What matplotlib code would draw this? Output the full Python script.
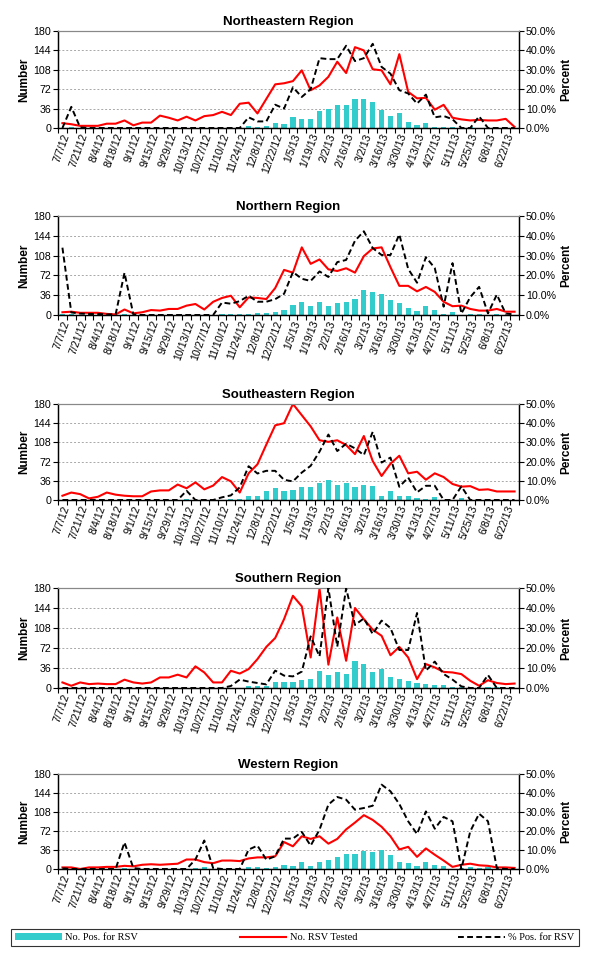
import matplotlib
matplotlib.use('Agg')
import numpy as np
import matplotlib.pyplot as plt
from matplotlib.ticker import PercentFormatter
from matplotlib.patches import Patch
from matplotlib.lines import Line2D

# week labels shown (every other week, 7/7/12 .. 6/22/13), 52 weeks in total
week_labels = ['7/7/12', '7/21/12', '8/4/12', '8/18/12', '9/1/12', '9/15/12',
               '9/29/12', '10/13/12', '10/27/12', '11/10/12', '11/24/12',
               '12/8/12', '12/22/12', '1/5/13', '1/19/13', '2/2/13', '2/16/13',
               '3/2/13', '3/16/13', '3/30/13', '4/13/13', '4/27/13', '5/11/13',
               '5/25/13', '6/8/13', '6/22/13']
n_weeks = 52

# Northeastern
ne_pos = [0, 1, 0, 0, 0, 0, 0, 0, 0, 0, 0, 0, 0, 0, 0, 0, 0, 0, 0, 0,
          0, 3, 1, 4, 10, 8, 20, 17, 16, 31, 35, 43, 43, 53, 53, 48, 33, 23, 27, 12,
          6, 10, 2, 2, 1, 0, 1, 0, 0, 0, 0, 0]
ne_tested = [9, 7, 4, 4, 4, 8, 8, 14, 5, 10, 10, 23, 19, 14, 21, 14, 22, 24, 30, 24,
             45, 47, 27, 54, 81, 83, 87, 107, 70, 79, 95, 123, 102, 150, 144, 109, 107, 81, 137, 67,
             55, 56, 34, 43, 19, 16, 14, 15, 14, 14, 17, 2]
ne_pct = [0, 10.9, 0.3, 0, 0, 0, 0, 0, 0, 0, 0, 0, 0, 0, 0, 0, 0, 0, 0, 0,
          0, 5.5, 3.4, 3.4, 12, 10, 21, 16, 20, 36, 35.5, 35.5, 42.4, 34.5, 36, 43.4, 31.5, 28, 19.5, 17.8,
          12.6, 17.2, 5.5, 6.2, 4.5, 0, 0, 6, 0, 0, 0, 0]

# Northern
n_pos = [2, 1, 0, 0, 0, 0, 0, 2, 0, 0, 0, 0, 0, 0, 0, 0, 0, 0, 2, 2,
         1, 2, 3, 3, 5, 9, 18, 23, 16, 23, 17, 22, 23, 29, 45, 41, 38, 27, 22, 13,
         7, 16, 9, 2, 5, 0, 2, 2, 0, 1, 0, 0]
n_tested = [5, 6, 4, 4, 4, 2, 1, 10, 3, 5, 9, 8, 11, 11, 17, 20, 10, 24, 31, 35,
            14, 32, 31, 29, 49, 82, 77, 123, 93, 101, 83, 80, 85, 77, 107, 121, 123, 87, 53, 53,
            43, 51, 42, 24, 16, 17, 11, 8, 8, 11, 6, 6]
n_pct = [34, 1.3, 0.7, 0.5, 0.5, 0.3, 0.3, 21.3, 0.3, 0, 0, 0, 0, 0, 0, 0, 0, 0, 6.3, 5.7,
         7, 9.7, 6.7, 6.7, 8, 10.7, 21.7, 18.3, 17.2, 22, 19.2, 26.7, 27.8, 37.5, 42.3, 33.8, 30.3, 30.3, 40.7, 23.3,
         16.3, 29.2, 23.7, 4.2, 26.2, 0.7, 9, 14.2, 0.8, 10.3, 0.7, 0.3]

# Southeastern
se_pos = [0, 0, 0, 0, 0, 0, 0, 0, 0, 0, 0, 0, 0, 0, 1, 0, 0, 0, 0, 1,
          1, 8, 8, 16, 22, 16, 18, 24, 25, 31, 38, 29, 31, 24, 29, 27, 8, 16, 7, 7,
          3, 2, 5, 0, 0, 3, 0, 0, 0, 0, 0, 0]
se_tested = [8, 14, 11, 3, 6, 14, 10, 8, 7, 7, 16, 18, 18, 29, 22, 33, 20, 27, 43, 35,
             14, 50, 67, 104, 140, 144, 180, 159, 138, 112, 109, 112, 103, 86, 120, 73, 45, 68, 83, 50,
             53, 38, 50, 43, 30, 25, 26, 19, 20, 16, 16, 16]
se_pct = [0, 0, 0, 0, 0, 0, 0, 0, 0, 0, 0, 0, 0, 0, 4.8, 0, 0, 0, 1.4, 2.4,
          6.6, 17.6, 13.8, 15.2, 15.2, 10.5, 9.7, 14.3, 17.8, 25.2, 34.1, 25.5, 29.3, 26.9, 23.4, 35.5, 19.5, 22.1, 6.9, 11.7,
          4, 7.4, 7.4, 0, 0, 7.1, 0, 0, 0, 0, 0, 0]

# Southern
s_pos = [0, 0, 0, 0, 0, 0, 0, 0, 0, 0, 0, 0, 0, 0, 0, 0, 0, 0, 0, 0,
         0, 3, 3, 3, 10, 10, 10, 14, 16, 30, 23, 28, 26, 48, 43, 29, 34, 19, 16, 12,
         9, 7, 6, 5, 2, 1, 0, 0, 2, 1, 0, 0]
s_tested = [10, 4, 10, 7, 8, 7, 7, 15, 10, 8, 10, 19, 19, 24, 19, 39, 28, 10, 10, 31,
            26, 34, 52, 74, 90, 124, 166, 147, 55, 179, 42, 127, 49, 144, 124, 105, 94, 59, 74, 55,
            16, 43, 37, 29, 28, 25, 13, 4, 14, 9, 7, 8]
s_pct = [0, 0, 0, 0, 0, 0, 0, 0, 0, 0, 0, 0, 0, 0, 0, 0, 0, 0, 0, 1,
         4.2, 3.2, 2.5, 1.8, 8.7, 6.2, 5.8, 8.2, 25.8, 15.8, 50, 20.7, 49.8, 31.5, 34.8, 27, 33.7, 30, 19, 19,
         37.5, 8.7, 13.2, 7, 4.2, 0.8, 0, 0, 6.5, 0, 0, 0]

# Western
w_pos = [0, 0, 0, 0, 0, 0, 0, 1, 0, 0, 0, 0, 0, 0, 0, 1, 3, 0, 0, 0,
         0, 4, 4, 1, 4, 8, 6, 13, 6, 13, 17, 23, 28, 28, 34, 32, 36, 27, 13, 11,
         5, 13, 7, 5, 0, 1, 3, 2, 3, 0, 0, 0]
w_tested = [3, 3, 0, 3, 3, 4, 4, 6, 5, 8, 9, 8, 9, 10, 18, 18, 13, 11, 16, 16,
            15, 20, 22, 22, 24, 51, 43, 62, 57, 62, 48, 57, 75, 88, 102, 93, 80, 62, 37, 42,
            23, 39, 27, 16, 4, 8, 10, 7, 6, 3, 3, 2]
w_pct = [0.4, 0, 0, 0, 0, 0, 0, 14, 0.5, 0, 0, 0, 0, 0, 0, 5, 15, 0.5, 0, 0,
         0, 10.2, 12.3, 4.9, 6.7, 16, 16, 19.5, 12.3, 20.7, 33.9, 37.9, 36.5, 31.2, 32.1, 33.3, 44.4, 40.9, 34.2, 25.1,
         18.4, 30.3, 21.2, 27.4, 25.1, 0, 19.8, 29.1, 25.1, 0.5, 0, 0]

titles = ['Northeastern Region', 'Northern Region', 'Southeastern Region',
          'Southern Region', 'Western Region']
pos_all = [ne_pos, n_pos, se_pos, s_pos, w_pos]
tested_all = [ne_tested, n_tested, se_tested, s_tested, w_tested]
pct_all = [ne_pct, n_pct, se_pct, s_pct, w_pct]

# plot area boxes in pixels (top, bottom)
W, H = 593, 966
left_px, right_px = 58, 519
boxes = [(31, 128), (216, 315), (404, 500), (588, 688), (774, 869)]

bar_col = '#33CCCC'
red = '#FF0000'
sans = ['Liberation Sans', 'DejaVu Sans']
serif = ['Liberation Serif', 'DejaVu Serif']
plt.rcParams['font.family'] = sans
tick_fs = 7.7

fig = plt.figure(figsize=(W / 100, H / 100), dpi=100)
x = np.arange(n_weeks)

for k in range(5):
    top, bot = boxes[k]
    ax = fig.add_axes([left_px / W, 1 - bot / H, (right_px - left_px) / W, (bot - top) / H])
    ax2 = ax.twinx()

    ax.bar(x, pos_all[k], width=0.58, color=bar_col, zorder=2)
    ax.plot(x, tested_all[k], color=red, lw=1.5, zorder=3)
    ax2.plot(x, pct_all[k], color='black', lw=1.4, ls=(0, (3, 1.7)), zorder=3)

    ax.set_xlim(-0.5, n_weeks - 0.5)
    ax.set_ylim(0, 180)
    ax.set_yticks(np.arange(0, 181, 36))
    ax2.set_ylim(0, 50)
    ax2.set_yticks(np.arange(0, 51, 10))
    ax2.yaxis.set_major_formatter(PercentFormatter(xmax=100, decimals=1))

    ax.grid(axis='y', color='#A8A8A8', ls=(0, (2, 2)), lw=0.7, zorder=0)
    ax.set_axisbelow(True)

    ax.set_xticks(x[::2])
    ax.set_xticklabels(week_labels, rotation=70, ha='right', rotation_mode='anchor', fontsize=tick_fs)
    ax.set_xticks(np.arange(-0.5, n_weeks, 1), minor=True)
    ax.tick_params(axis='x', which='major', length=0, pad=3)
    ax.tick_params(axis='x', which='minor', length=3.5, width=0.8)
    ax.tick_params(axis='y', labelsize=tick_fs, length=3.5, width=0.8, pad=1.5)
    ax2.tick_params(axis='y', labelsize=tick_fs, length=3.5, width=0.8, pad=1.5)

    for a in (ax, ax2):
        a.spines['top'].set_color('#888888')
        a.spines['left'].set_linewidth(0.9)
        a.spines['right'].set_linewidth(0.9)
        a.spines['bottom'].set_linewidth(0.9)

    ax.set_ylabel('Number', fontsize=8.5, fontweight='bold', labelpad=2)
    ax2.set_ylabel('Percent', fontsize=8.5, fontweight='bold', rotation=90, labelpad=3)
    ax.set_title(titles[k], fontsize=9.5, fontweight='bold', pad=4)

handles = [Patch(facecolor=bar_col, edgecolor='none'),
           Line2D([], [], color=red, lw=1.5),
           Line2D([], [], color='black', lw=1.4, ls=(0, (3, 1.7)))]
labels = ['No. Pos. for RSV', 'No. RSV Tested', '% Pos. for RSV']
leg = fig.legend(handles, labels, loc='center', ncol=3, mode='expand',
                 bbox_to_anchor=(6 / W, 1 - 949 / H, 578 / W, 23 / H),
                 prop={'family': serif, 'size': 7.5}, frameon=True, fancybox=False,
                 edgecolor='black', handlelength=4.5, handletextpad=0.3,
                 borderpad=0.4)
leg.get_frame().set_linewidth(0.8)

fig.savefig('out.png', dpi=100, facecolor='white')
